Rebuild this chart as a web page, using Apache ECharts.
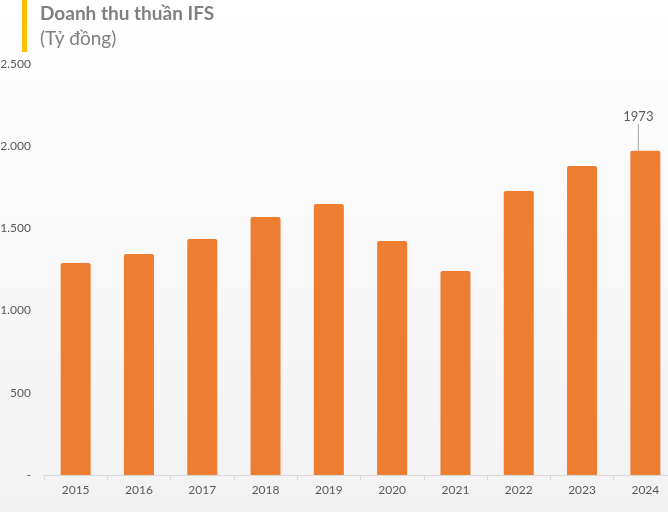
<!DOCTYPE html>
<html>
<head>
<meta charset="utf-8">
<script src="https://cdn.jsdelivr.net/npm/echarts@6/dist/echarts.min.js"></script>
<style>html,body{margin:0;padding:0;}#c{width:668px;height:512px;}</style>
</head>
<body>
<div id="c"></div>
<script>
var categories = ['2015','2016','2017','2018','2019','2020','2021','2022','2023','2024'];
var revenue = [1290, 1344, 1436, 1569, 1648, 1423, 1241, 1727, 1880, 1973];
var yTicks = [0, 500, 1000, 1500, 2000, 2500];
var titleMain = 'Doanh thu thuần IFS';
var titleSub = '(Tỷ đồng)';

function fmt(v){ if (v === 0) return '-'; return String(v).replace(/\B(?=(\d{3})+(?!\d))/g, '.'); }

var chart = echarts.init(document.getElementById('c'), null, {renderer:'canvas'});
var data = revenue.map(function(v, i){
  if (i === revenue.length - 1) {
    return {value: v, label: {show: true}, labelLine: {show: true}};
  }
  return v;
});
chart.setOption({
  animation: false,
  backgroundColor: new echarts.graphic.LinearGradient(0,0,0,1,[{offset:0,color:'#ffffff'},{offset:1,color:'#f2f2f2'}]),
  textStyle: {fontFamily: 'Lato'},
  graphic: [
    {type:'rect', left: 22, top: 0, shape:{width:5, height:52}, style:{fill:'#FFC000'}},
    {type:'text', left: 40, top: 4, style:{text: titleMain, font:'bold 19px Lato', fill:'#808080'}},
    {type:'text', left: 40, top: 29, style:{text: titleSub, font:'19px Lato', fill:'#808080'}}
  ],
  grid: {left: 44, right: -9, top: 64, bottom: 37, containLabel: false, outerBoundsMode: 'none'},
  xAxis: {
    type: 'category', data: categories, boundaryGap: true,
    axisLine: {lineStyle: {color: '#d9d9d9'}},
    axisTick: {show: true, length: 5, lineStyle:{color:'#d9d9d9'}},
    axisLabel: {color: '#595959', fontSize: 12, margin: 9, fontFamily: 'Lato'}
  },
  yAxis: {
    type: 'value', min: yTicks[0], max: yTicks[yTicks.length-1], interval: 500,
    axisLine: {show: false}, axisTick: {show: false}, splitLine: {show: false},
    axisLabel: {color: '#595959', fontSize: 12, margin: 13, formatter: fmt, fontFamily: 'Lato'}
  },
  series: [{
    type: 'bar', data: data, barWidth: 30,
    itemStyle: {color: '#ED7D31', borderRadius: [2,2,0,0]},
    label: {show: false, position: 'top', distance: 27, color: '#595959', fontSize: 13, fontFamily: 'Lato'},
    labelLayout: {dx: -7},
    labelLine: {lineStyle: {color: '#a6a6a6', width: 1}}
  }]
});
</script>
</body>
</html>
